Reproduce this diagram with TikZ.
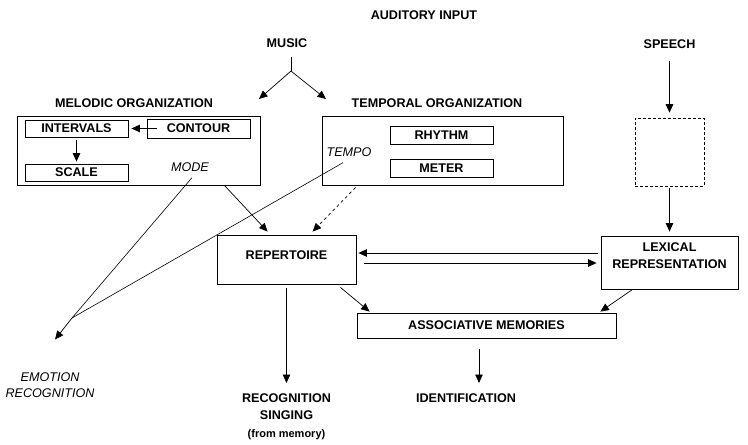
\documentclass[tikz,border=0pt]{standalone}
\usepackage{fontspec}
\setmainfont{Liberation Sans}
\usetikzlibrary{arrows.meta}
\newcommand{\police}{\fontsize{12.6}{17}\selectfont\bfseries}
\newcommand{\policeit}{\fontsize{12.6}{16}\selectfont\itshape}
\newcommand{\petite}{\fontsize{11}{17}\selectfont\bfseries}

\begin{document}
\begin{tikzpicture}[x=1pt, y=-1pt, >={Triangle[length=8.5pt,width=7.5pt]},
    boite/.style={draw, line width=0.8pt, inner sep=0pt, font=\police},
    texte/.style={font=\police, align=center, inner sep=2pt},
    italique/.style={font=\policeit, align=center, inner sep=2pt},
    fleche/.style={->, line width=0.7pt}]

    \useasboundingbox (0,0) rectangle (748,445);

    % Entrées auditives
    \node[texte] (auditory) at (424,15) {AUDITORY INPUT};
    \node[texte] (music) at (287,43) {MUSIC};
    \node[texte] (speech) at (669.5,44) {SPEECH};

    % Boîte organisation mélodique
    \node[texte] (melodiclabel) at (134,103) {MELODIC ORGANIZATION};
    \node[boite, minimum width=243pt, minimum height=69pt] (melodic) at (138.5,150.5) {};
    \node[boite, minimum width=103pt, minimum height=17pt] (intervals) at (76.5,128.5) {INTERVALS};
    \node[boite, minimum width=103pt, minimum height=19pt] (contour) at (198.5,128.5) {CONTOUR};
    \node[boite, minimum width=103pt, minimum height=17pt] (scale) at (76.5,172.5) {SCALE};
    \node[italique] (mode) at (190,167) {MODE};

    % Boîte organisation temporelle
    \node[texte] (temporallabel) at (437,103) {TEMPORAL ORGANIZATION};
    \node[boite, minimum width=241pt, minimum height=69pt] (temporal) at (442.5,150.5) {};
    \node[boite, minimum width=103pt, minimum height=18pt] (rhythm) at (441.5,135) {RHYTHM};
    \node[boite, minimum width=103pt, minimum height=18pt] (meter) at (441.5,168) {METER};
    \node[italique] (tempo) at (349,152) {TEMPO};

    % Boîte parole (pointillés)
    \node[draw, line width=0.6pt, dash pattern=on 3pt off 2pt, minimum width=69pt, minimum height=68pt] (speechbox) at (669.5,152) {};

    % Répertoire, lexique, mémoires
    \node[boite, minimum width=139pt, minimum height=49pt, text height=9pt, text depth=10pt] (repertoire) at (286.5,259.5) {REPERTOIRE};
    \node[boite, minimum width=137pt, minimum height=53pt, text height=26pt, text depth=14pt, align=center] (lexical) at (669.5,262.5) {LEXICAL\\REPRESENTATION};
    \node[boite, minimum width=259pt, minimum height=25pt] (assoc) at (486.5,325.5) {ASSOCIATIVE MEMORIES};

    % Sorties
    \node[italique, anchor=north] (emotion) at (50,370.5) {EMOTION\\RECOGNITION};
    \node[texte, anchor=north] (recognition) at (286.5,391.5) {RECOGNITION\\SINGING\\[1pt]{\petite (from memory)}};
    \node[texte, anchor=north] (identification) at (466,391.5) {IDENTIFICATION};

    % Points de jonction
    \coordinate (fourche) at (291,71);
    \coordinate (melodicin) at (259,99);
    \coordinate (temporalin) at (326,99);
    \coordinate (emo) at (72,318);

    % Flèches du haut
    \draw[line width=0.7pt, shorten <=7.5pt] (music.south -| fourche) -- (fourche);
    \draw[fleche] (fourche) -- (melodicin);
    \draw[fleche] (fourche) -- (temporalin);
    \draw[fleche, shorten <=10.5pt, shorten >=5pt] (speech) -- (speechbox);
    \draw[fleche, shorten <=2pt, shorten >=4pt] (speechbox) -- (lexical);

    % Flèches internes
    \draw[fleche, shorten >=3pt] ([xshift=10pt]contour.west) -- (intervals.east);
    \draw[fleche, shorten <=3pt, shorten >=2pt] (intervals.south) -- (scale.north);

    % Vers le répertoire
    \draw[fleche] ([xshift=-36pt]melodic.south east) -- ([xshift=51pt,yshift=3pt]repertoire.north west);
    \draw[fleche, dashed] ([xshift=34pt,yshift=-2pt]temporal.south west) -- ([xshift=96pt,yshift=3pt]repertoire.north west);

    % Reconnaissance des émotions
    \draw[line width=0.6pt] ([xshift=2pt,yshift=-4pt]mode.south) -- (emo);
    \draw[line width=0.6pt] ([xshift=-6pt,yshift=-4pt]tempo.south) -- (emo);
    \draw[fleche] (emo) -- ([xshift=5pt,yshift=31pt]emotion.north);

    % Échanges répertoire / lexique
    \draw[fleche, shorten <=3pt, shorten >=2pt] ([yshift=9.5pt]lexical.west) -- ([yshift=6.5pt]repertoire.east);
    \draw[fleche, shorten <=8pt, shorten >=4pt] ([yshift=-3.5pt]repertoire.east) -- ([yshift=-0.5pt]lexical.west);

    % Vers les mémoires associatives
    \draw[fleche] ([xshift=-16pt,yshift=-3pt]repertoire.south east) -- ([xshift=13pt,yshift=1pt]assoc.north west);
    \draw[fleche] ([xshift=32pt]lexical.south west) -- ([xshift=-16pt,yshift=1pt]assoc.north east);

    % Sorties
    \draw[fleche, shorten <=4pt, shorten >=8.5pt] (repertoire.south) -- (recognition.north);
    \draw[fleche, shorten <=11pt, shorten >=8.5pt] ([xshift=-7.5pt]assoc.south) -- ([xshift=13pt]identification.north);
\end{tikzpicture}
\end{document}
